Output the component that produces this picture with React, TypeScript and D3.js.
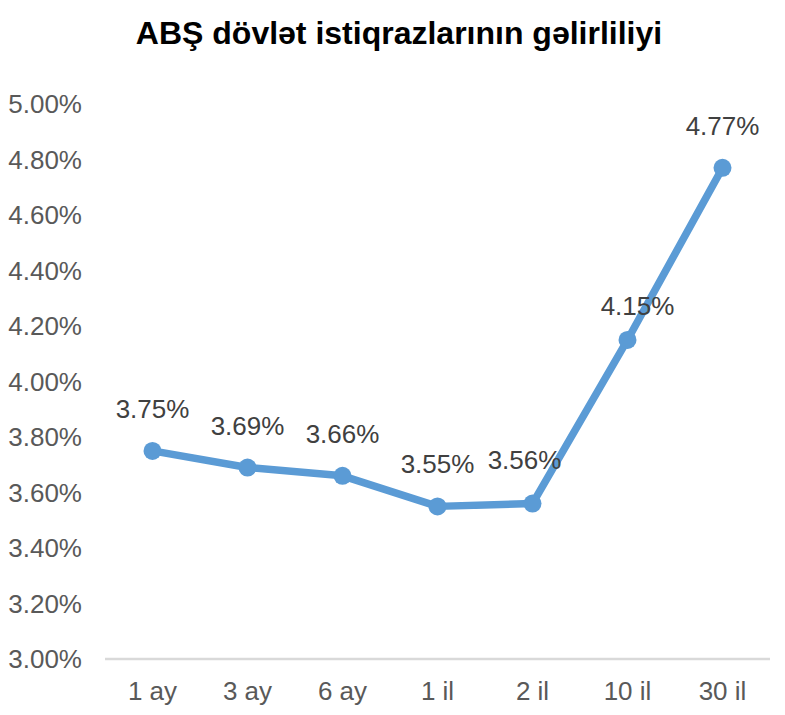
import React from "react";
import * as d3 from "d3";

const categories = ["1 ay", "3 ay", "6 ay", "1 il", "2 il", "10 il", "30 il"];
const values = [3.75, 3.69, 3.66, 3.55, 3.56, 4.15, 4.77];
const yTicks = [3.0, 3.2, 3.4, 3.6, 3.8, 4.0, 4.2, 4.4, 4.6, 4.8, 5.0];
const title = "ABŞ dövlət istiqrazlarının gəlirliliyi";

export default function App() {
  const W = 785, H = 715;
  const x = d3.scaleBand<string>().domain(categories).range([105, 770]);
  const y = d3.scaleLinear().domain([3.0, 5.0]).range([659, 104]);
  const cx = (c: string) => (x(c) as number) + x.bandwidth() / 2;
  const line = d3.line<number>().x((_, i) => cx(categories[i])).y((v) => y(v));
  const font = "Arial, 'Liberation Sans', sans-serif";
  // manual label nudges as in the reference (dx, dy)
  const nudge: Record<string, [number, number]> = { "2 il": [-8, -2], "10 il": [10, 8] };
  return (
    <svg width={W} height={H} style={{ position: "absolute", left: 0, top: 0, background: "#fff" }}>
      <text x={399} y={44} textAnchor="middle" fontFamily={font} fontWeight="bold" fontSize={32} fill="#000">{title}</text>
      {yTicks.map((t) => (
        <text key={t} x={82} y={y(t)} dy="0.35em" textAnchor="end" fontFamily={font} fontSize={26} fill="#595959">{t.toFixed(2) + "%"}</text>
      ))}
      <line x1={105} x2={770} y1={y(3.0)} y2={y(3.0)} stroke="#d9d9d9" strokeWidth={2.5} />
      {categories.map((c) => (
        <text key={c} x={cx(c)} y={700} textAnchor="middle" fontFamily={font} fontSize={26} fill="#595959">{c}</text>
      ))}
      <path d={line(values) || ""} fill="none" stroke="#5b9bd5" strokeWidth={7.5} strokeLinejoin="round" />
      {values.map((v, i) => (
        <circle key={i} cx={cx(categories[i])} cy={y(v)} r={9} fill="#5b9bd5" />
      ))}
      {values.map((v, i) => {
        const n = nudge[categories[i]] || [0, 0];
        return (
          <text key={"l" + i} x={cx(categories[i]) + n[0]} y={y(v) - 33 + n[1]} textAnchor="middle" fontFamily={font} fontSize={26} fill="#404040">{v.toFixed(2) + "%"}</text>
        );
      })}
    </svg>
  );
}
